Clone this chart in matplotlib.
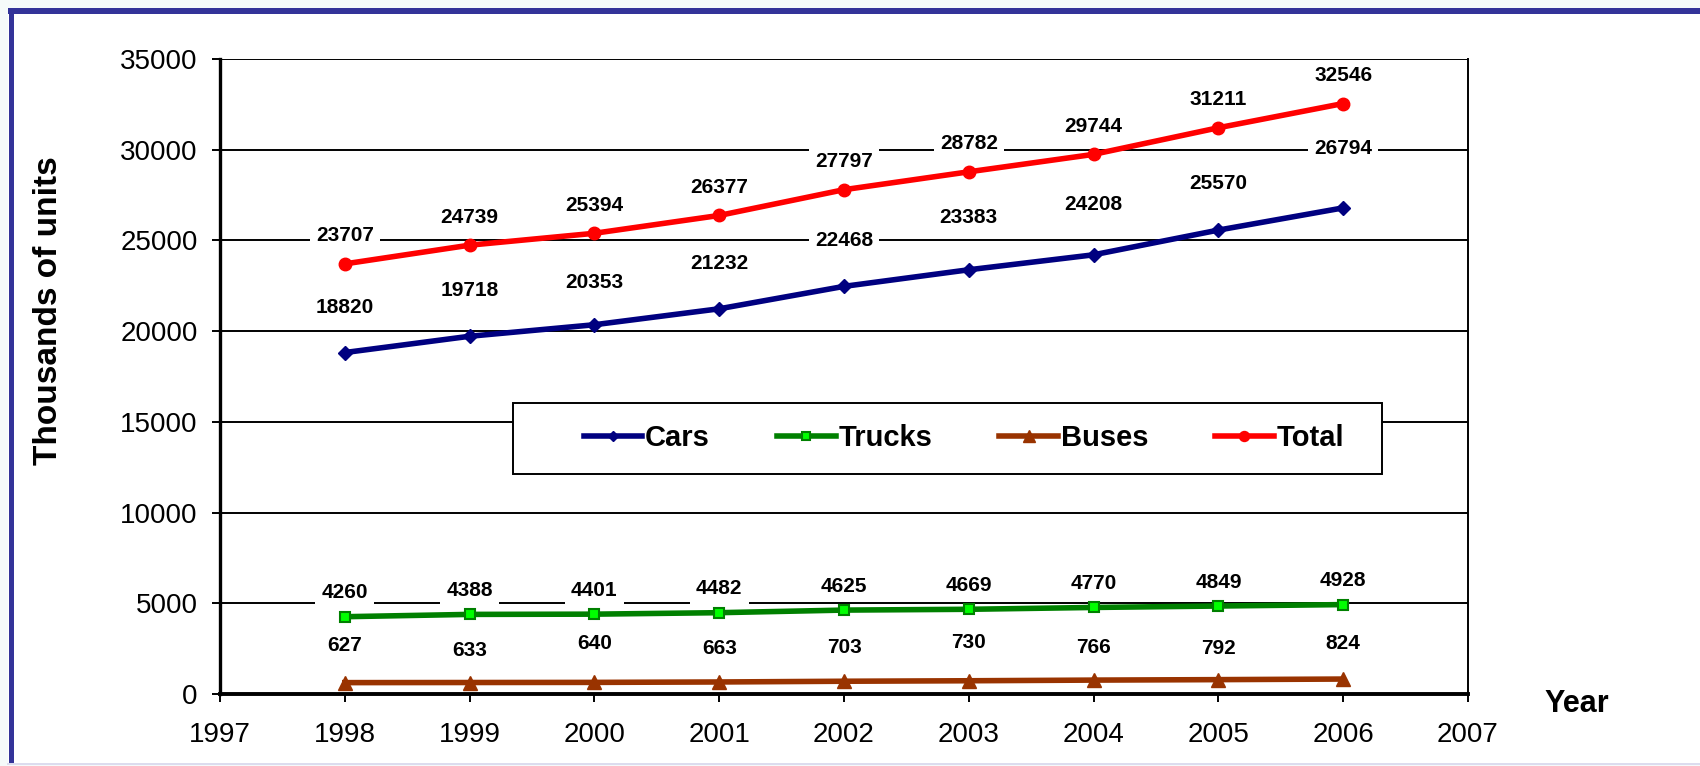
import matplotlib
matplotlib.use("Agg")
import matplotlib.pyplot as plt
from matplotlib.patches import Rectangle
from matplotlib.lines import Line2D

plt.rcParams['font.family'] = ['Liberation Sans', 'DejaVu Sans']

# data (thousands of units)
years = [1998, 1999, 2000, 2001, 2002, 2003, 2004, 2005, 2006]
cars = [18820, 19718, 20353, 21232, 22468, 23383, 24208, 25570, 26794]
trucks = [4260, 4388, 4401, 4482, 4625, 4669, 4770, 4849, 4928]
buses = [627, 633, 640, 663, 703, 730, 766, 792, 824]
total = [23707, 24739, 25394, 26377, 27797, 28782, 29744, 31211, 32546]

# label lift above each point, in pixels (labels were hand placed in the original)
cars_lift = [45, 46, 42, 45, 46, 52, 50, 47, 59]
trucks_lift = [24] * 9
buses_lift = [37, 32, 39, 33, 34, 38, 33, 31, 36]
total_lift = [28] * 9

W, H, DPI = 1700, 766, 100
fig = plt.figure(figsize=(W / DPI, H / DPI), dpi=DPI, facecolor='#f5fafa')

def fx(px):
    return px / W

def fy(py):
    return 1 - py / H

# white panel with the navy frame on top and left
fig.patches.append(Rectangle((fx(8), fy(763)), 1, fy(8) - fy(763), transform=fig.transFigure,
                             facecolor='white', edgecolor='none', zorder=-10))
fig.add_artist(Line2D([fx(8), 1], [fy(11), fy(11)], transform=fig.transFigure,
                      color='#333399', lw=6 * 72 / DPI, solid_capstyle='butt'))
fig.add_artist(Line2D([fx(10.5), fx(10.5)], [fy(8), fy(763)], transform=fig.transFigure,
                      color='#333399', lw=5 * 72 / DPI, solid_capstyle='butt'))
fig.add_artist(Line2D([fx(8), 1], [fy(764), fy(764)], transform=fig.transFigure,
                      color='#dcdcee', lw=2 * 72 / DPI))

ax = fig.add_axes([fx(220), fy(694), fx(1468) - fx(220), fy(59) - fy(694)])
ax.set_facecolor('none')
ax.set_xlim(1997, 2007)
ax.set_ylim(0, 35000)
ax.set_xticks(range(1997, 2008))
ax.set_yticks(range(0, 35001, 5000))
ax.tick_params(axis='both', labelsize=20, direction='out', length=6, width=1.4)
ax.tick_params(axis='x', pad=14)
ax.tick_params(axis='y', pad=10)
ax.yaxis.grid(True, color='black', lw=1.4)
ax.set_axisbelow(True)
ax.spines['top'].set_visible(False)
ax.spines['left'].set_linewidth(2.4)
ax.spines['bottom'].set_linewidth(2.8)
ax.spines['right'].set_linewidth(1.4)

series = [
    ('Cars', cars, cars_lift, dict(color='#000080', marker='D', markersize=7,
                                   markerfacecolor='#000080', markeredgecolor='#000080')),
    ('Trucks', trucks, trucks_lift, dict(color='#008000', marker='s', markersize=7,
                                         markerfacecolor='#00ff00', markeredgecolor='#008000',
                                         markeredgewidth=1.5)),
    ('Buses', buses, buses_lift, dict(color='#993300', marker='^', markersize=10,
                                      markerfacecolor='#993300', markeredgecolor='#993300')),
    ('Total', total, total_lift, dict(color='#ff0000', marker='o', markersize=9,
                                      markerfacecolor='#ff0000', markeredgecolor='#ff0000')),
]

handles = []
for name, vals, lift, style in series:
    ln, = ax.plot(years, vals, lw=4, label=name, clip_on=False, zorder=3, **style)
    handles.append(ln)
    for x, v, d in zip(years, vals, lift):
        ax.annotate(str(v), (x, v), xytext=(0, d * 72 / DPI), textcoords='offset points',
                    ha='center', va='center', fontsize=15, fontweight='bold',
                    bbox=dict(boxstyle='square,pad=0.3', facecolor='white', edgecolor='none'),
                    zorder=4)

# legend box
ax.add_patch(Rectangle((fx(513), fy(474)), fx(1382) - fx(513), fy(403) - fy(474),
                       transform=fig.transFigure, facecolor='white', edgecolor='black',
                       lw=1.4, clip_on=False, zorder=5))
leg = fig.legend(handles=handles, loc='center left', bbox_to_anchor=(fx(584), fy(438)),
                 ncol=4, frameon=False, prop={'weight': 'bold', 'size': 21},
                 handlelength=2.0, handletextpad=0.1, columnspacing=2.3,
                 borderpad=0, borderaxespad=0, numpoints=1, markerscale=0.8)
leg.set_zorder(6)

fig.text(fx(49), fy(311), 'Thousands of units', rotation=90, ha='center', va='center',
         fontsize=24, fontweight='bold')
fig.text(fx(1577), fy(704), 'Year', ha='center', va='center', fontsize=22, fontweight='bold')

fig.savefig('out.png', dpi=DPI, facecolor=fig.get_facecolor())
